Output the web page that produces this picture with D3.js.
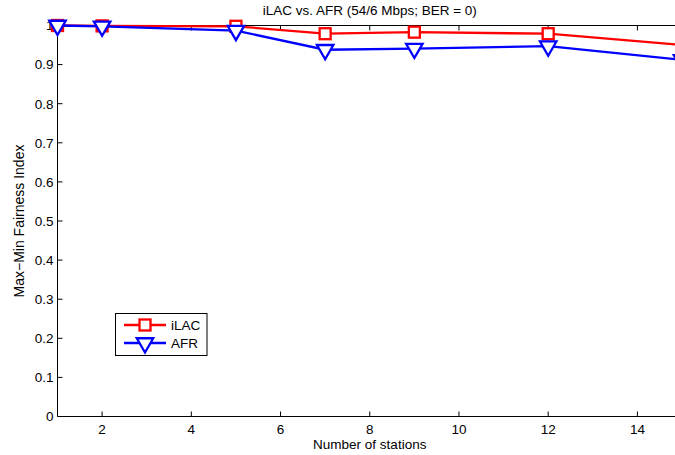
<!DOCTYPE html>
<html><head><meta charset="utf-8">
<script src="https://cdn.jsdelivr.net/npm/d3@7"></script>
<style>body{margin:0;background:#fff}svg{display:block}text{font-family:"Liberation Sans",Arial,sans-serif;fill:#000}</style>
</head><body>
<svg id="c" width="675" height="455"></svg>
<script>
const stations = [1, 2, 5, 7, 9, 12, 15];
const ilac = [1.0, 0.999, 0.998, 0.979, 0.983, 0.979, 0.950];
const afr  = [1.0, 0.998, 0.987, 0.938, 0.941, 0.947, 0.912];
const xTicks = [2, 4, 6, 8, 10, 12, 14];
const yTicks = [0, 0.1, 0.2, 0.3, 0.4, 0.5, 0.6, 0.7, 0.8, 0.9, 1];
const seriesNames = ["iLAC", "AFR"];

const svg = d3.select("#c");
const L = 57.5, T = 25.5, R = 682, B = 416.5;
const x = d3.scaleLinear().domain([1, 15]).range([L, R]);
const y = d3.scaleLinear().domain([0, 1]).range([B, T]);
const fs = 13.5;

// axes box
const g = svg.append("g");
const tl = 5;
xTicks.forEach(t => {
  g.append("line").attr("x1", x(t)).attr("x2", x(t)).attr("y1", B).attr("y2", B - tl).attr("stroke", "#000");
  g.append("line").attr("x1", x(t)).attr("x2", x(t)).attr("y1", T).attr("y2", T + tl).attr("stroke", "#000");
  g.append("text").attr("x", x(t)).attr("y", 434).attr("text-anchor", "middle").attr("font-size", fs).text(t);
});
yTicks.forEach(t => {
  g.append("line").attr("x1", L).attr("x2", L + tl).attr("y1", y(t)).attr("y2", y(t)).attr("stroke", "#000");
  g.append("text").attr("x", L - 4).attr("y", y(t)).attr("dy", "0.36em").attr("text-anchor", "end").attr("font-size", fs).text(d3.format("")(t));
});
g.append("line").attr("x1", L).attr("x2", R).attr("y1", B).attr("y2", B).attr("stroke", "#000");
g.append("line").attr("x1", L).attr("x2", R).attr("y1", T).attr("y2", T).attr("stroke", "#000");
g.append("line").attr("x1", L).attr("x2", L).attr("y1", T).attr("y2", B).attr("stroke", "#000");

// title and labels
svg.append("text").attr("x", (L + R) / 2).attr("y", 15).attr("text-anchor", "middle").attr("font-size", fs).text("iLAC vs. AFR (54/6 Mbps; BER = 0)");
svg.append("text").attr("x", (L + R) / 2).attr("y", 449).attr("text-anchor", "middle").attr("font-size", fs).text("Number of stations");
svg.append("text").attr("transform", `translate(24,${(T + B) / 2}) rotate(-90)`).attr("text-anchor", "middle").attr("font-size", 14).text("Max\u2212Min Fairness Index");

const line = d3.line().x(d => x(d[0])).y(d => y(d[1]));
const sq = 5.5;
const triPath = (cx, cy, r) => `M${cx - r * 0.866},${cy - r / 2}L${cx + r * 0.866},${cy - r / 2}L${cx},${cy + r}Z`;

function drawSeries(vals, color, marker) {
  const pts = stations.map((s, i) => [s, vals[i]]);
  svg.append("path").attr("d", line(pts)).attr("fill", "none").attr("stroke", color).attr("stroke-width", 2.3);
  pts.forEach(p => {
    const cx = x(p[0]), cy = y(p[1]);
    if (marker === "sq") {
      svg.append("rect").attr("x", cx - sq).attr("y", cy - sq).attr("width", 2 * sq).attr("height", 2 * sq)
        .attr("fill", "#fff").attr("stroke", color).attr("stroke-width", 2.3);
    } else {
      svg.append("path").attr("d", triPath(cx, cy, 9.5)).attr("fill", "#fff").attr("stroke", color).attr("stroke-width", 2.3);
    }
  });
}
drawSeries(ilac, "#ff0000", "sq");
drawSeries(afr, "#0000ff", "tri");

// legend
const lg = svg.append("g");
lg.append("rect").attr("x", 115.5).attr("y", 313.5).attr("width", 91.5).attr("height", 42).attr("fill", "#fff").attr("stroke", "#000");
const rows = [{name: seriesNames[0], color: "#ff0000", m: "sq", y: 325}, {name: seriesNames[1], color: "#0000ff", m: "tri", y: 343}];
rows.forEach(r => {
  lg.append("line").attr("x1", 124).attr("x2", 166).attr("y1", r.y).attr("y2", r.y).attr("stroke", r.color).attr("stroke-width", 2.3);
  if (r.m === "sq") {
    lg.append("rect").attr("x", 145 - sq).attr("y", r.y - sq).attr("width", 2 * sq).attr("height", 2 * sq).attr("fill", "#fff").attr("stroke", r.color).attr("stroke-width", 2.3);
  } else {
    lg.append("path").attr("d", triPath(145, r.y, 9.5)).attr("fill", "#fff").attr("stroke", r.color).attr("stroke-width", 2.3);
  }
  lg.append("text").attr("x", 171).attr("y", r.y).attr("dy", "0.36em").attr("font-size", fs).text(r.name);
});
</script>
</body></html>
